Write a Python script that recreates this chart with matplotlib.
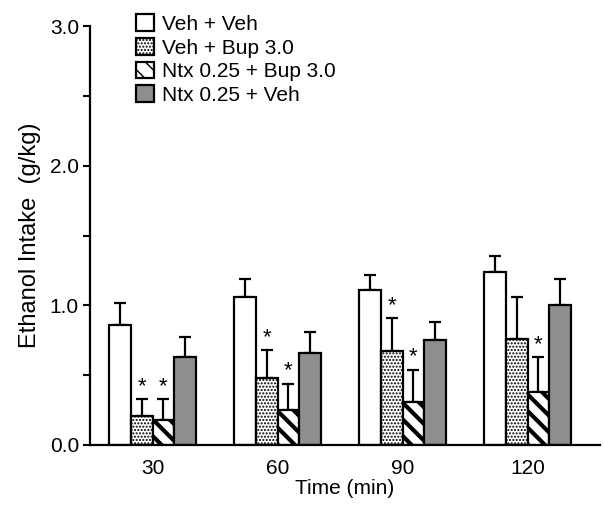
import numpy as np
import matplotlib
matplotlib.use("Agg")
import matplotlib.pyplot as plt

plt.rcParams['font.family'] = ['Liberation Sans', 'DejaVu Sans']

# Data
times = ['30', '60', '90', '120']
groups = ['Veh + Veh', 'Veh + Bup 3.0', 'Ntx 0.25 + Bup 3.0', 'Ntx 0.25 + Veh']
veh_veh = [0.86, 1.06, 1.11, 1.24]
veh_veh_err = [0.16, 0.13, 0.11, 0.11]
veh_bup = [0.21, 0.48, 0.67, 0.76]
veh_bup_err = [0.12, 0.20, 0.24, 0.30]
ntx_bup = [0.18, 0.25, 0.31, 0.38]
ntx_bup_err = [0.15, 0.19, 0.23, 0.25]
ntx_veh = [0.63, 0.66, 0.75, 1.00]
ntx_veh_err = [0.14, 0.15, 0.13, 0.19]
# significance markers (bup bars, ntx+bup bars)
sig_bup = [True, True, True, False]
sig_ntx = [True, True, True, True]

fig = plt.figure(figsize=(6.04, 5.15), dpi=100)
ax = fig.add_axes([90/604, 70/515, 510/604, 419/515])

x = np.arange(len(times))
w = 0.175
offsets = [-1.5 * w, -0.5 * w, 0.5 * w, 1.5 * w]
means = [veh_veh, veh_bup, ntx_bup, ntx_veh]
errs = [veh_veh_err, veh_bup_err, ntx_bup_err, ntx_veh_err]
faces = ['white', 'white', 'white', '#8e8e8e']
hatches = [None, '.....', '\\\\', None]
hatch_lw = [1.0, 1.0, 3.0, 1.0]

for i in range(4):
    plt.rcParams['hatch.linewidth'] = hatch_lw[i]
    ax.bar(x + offsets[i], means[i], w, color=faces[i], edgecolor='black',
           linewidth=1.6, hatch=hatches[i], label=groups[i], zorder=2)
    ax.errorbar(x + offsets[i], means[i], yerr=[np.zeros(4), errs[i]],
                fmt='none', ecolor='black', elinewidth=1.6, capsize=4.5,
                capthick=1.6, zorder=1)

for j in range(len(times)):
    if sig_bup[j]:
        ax.text(x[j] + offsets[1], veh_bup[j] + veh_bup_err[j] + 0.015, '*',
                ha='center', va='bottom', fontsize=16)
    if sig_ntx[j]:
        ax.text(x[j] + offsets[2], ntx_bup[j] + ntx_bup_err[j] + 0.015, '*',
                ha='center', va='bottom', fontsize=16)

ax.set_xlim(-0.5, 3.58)
ax.set_ylim(0, 3.0)
ax.set_yticks([0, 1, 2, 3])
ax.set_yticklabels(['0.0', '1.0', '2.0', '3.0'])
ax.set_yticks([0.5, 1.5, 2.5], minor=True)
ax.set_xticks(x)
ax.set_xticklabels(times)
ax.tick_params(axis='y', which='both', direction='out', length=5, width=1.5,
               labelsize=15, pad=3)
ax.tick_params(axis='x', length=0, labelsize=15, pad=10)
for s in ['top', 'right']:
    ax.spines[s].set_visible(False)
ax.spines['left'].set_linewidth(1.6)
ax.spines['bottom'].set_linewidth(1.6)

ax.set_ylabel('Ethanol Intake  (g/kg)', fontsize=17, labelpad=6)
ax.set_xlabel('Time (min)', fontsize=15, labelpad=1)

ax.legend(loc='upper left', bbox_to_anchor=(126/604, 1 - 4/515), bbox_transform=fig.transFigure,
          frameon=False, fontsize=15, handlelength=0.85, handleheight=0.85,
          handletextpad=0.4, labelspacing=0.2, borderpad=0)

fig.savefig('out.png', dpi=100)
